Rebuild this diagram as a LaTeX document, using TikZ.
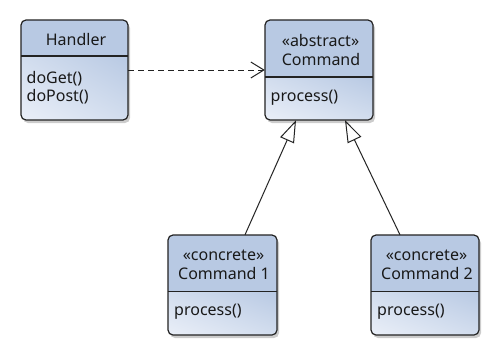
\documentclass[tikz,border=0pt]{standalone}
\usepackage{fontspec}
\setmainfont{Noto Sans}
\usetikzlibrary{arrows.meta,shadings}
\definecolor{headc}{RGB}{184,201,227}
\definecolor{bodylight}{RGB}{234,239,248}
\definecolor{bodymid}{RGB}{210,221,238}
\definecolor{bodydark}{RGB}{184,201,227}
\definecolor{linec}{RGB}{35,35,35}
\tikzset{
  boxline/.style={draw=linec, line width=1.2pt, rounded corners=5pt},
  shadowc/.style={fill=black, opacity=0.2, rounded corners=5pt},
  txt/.style={font=\fontsize{16}{18}\selectfont, inner sep=0pt, text=black!90},
  conn/.style={draw=linec, line width=1pt},
  inherit/.style={conn, -{Triangle[open, length=22pt, width=15pt]}},
  depend/.style={conn, dash pattern=on 6pt off 4pt, -{Straight Barb[length=13pt, width=16pt]}},
}
% #1 name, #2 x1, #3 y1, #4 x2, #5 y2, #6 divider y
\newcommand\classbox[6]{%
  \fill[shadowc] (#2+2,#3+3) rectangle (#4+2,#5+3);
  \begin{scope}
    \clip[rounded corners=5pt] (#2,#3) rectangle (#4,#5);
    \shade[upper left=bodymid, lower left=bodylight, upper right=bodydark, lower right=bodymid]
      (#2,#6) rectangle (#4,#5);
    \fill[headc] (#2,#3) rectangle (#4,#6);
  \end{scope}
  \draw[boxline] (#2,#3) rectangle (#4,#5);
  \draw[draw=linec, line width=1.2pt] (#2,#6) -- (#4,#6);
  \node[inner sep=0pt, minimum width=#4-#2, minimum height=#5-#3] (#1) at ({(#2+#4)/2},{(#3+#5)/2}) {};
}
\begin{document}
\begin{tikzpicture}[x=1pt, y=-1pt]
\useasboundingbox (0,0) rectangle (500,356);
\fill[white] (0,0) rectangle (500,356);

\classbox{handler}{21}{20}{128}{120}{56}
\node[txt, anchor=base] (handlername) at (76,45) {Handler};
\node[txt, anchor=base west] (handlerm1) at (26.5,83) {doGet()};
\node[txt, anchor=base west] (handlerm2) at (26.5,101) {doPost()};

\classbox{command}{265}{20}{373}{120}{77}
\node[txt, anchor=base] (commandst) at (320.5,46) {«abstract»};
\node[txt, anchor=base] (commandname) at (321,65) {Command};
\node[txt, anchor=base west] (commandm1) at (270.5,101) {process()};

\classbox{cmdone}{168}{235}{277}{335}{291.5}
\node[txt, anchor=base] (cmdonest) at (223.5,260) {«concrete»};
\node[txt, anchor=base] (cmdonename) at (224,279) {Command 1};
\node[txt, anchor=base west] (cmdonem1) at (174,315) {process()};

\classbox{cmdtwo}{371}{235}{479}{335}{291.5}
\node[txt, anchor=base] (cmdtwost) at (426.5,260) {«concrete»};
\node[txt, anchor=base] (cmdtwoname) at (427,279) {Command 2};
\node[txt, anchor=base west] (cmdtwom1) at (377,315) {process()};

\draw[depend] (handler.east |- 0,70) -- (command.west |- 0,70);
\draw[inherit] (cmdone.north -| 245,0) -- (command.south -| 296,0);
\draw[inherit] (cmdtwo.north -| 400,0) -- (command.south -| 345,0);
\end{tikzpicture}
\end{document}
